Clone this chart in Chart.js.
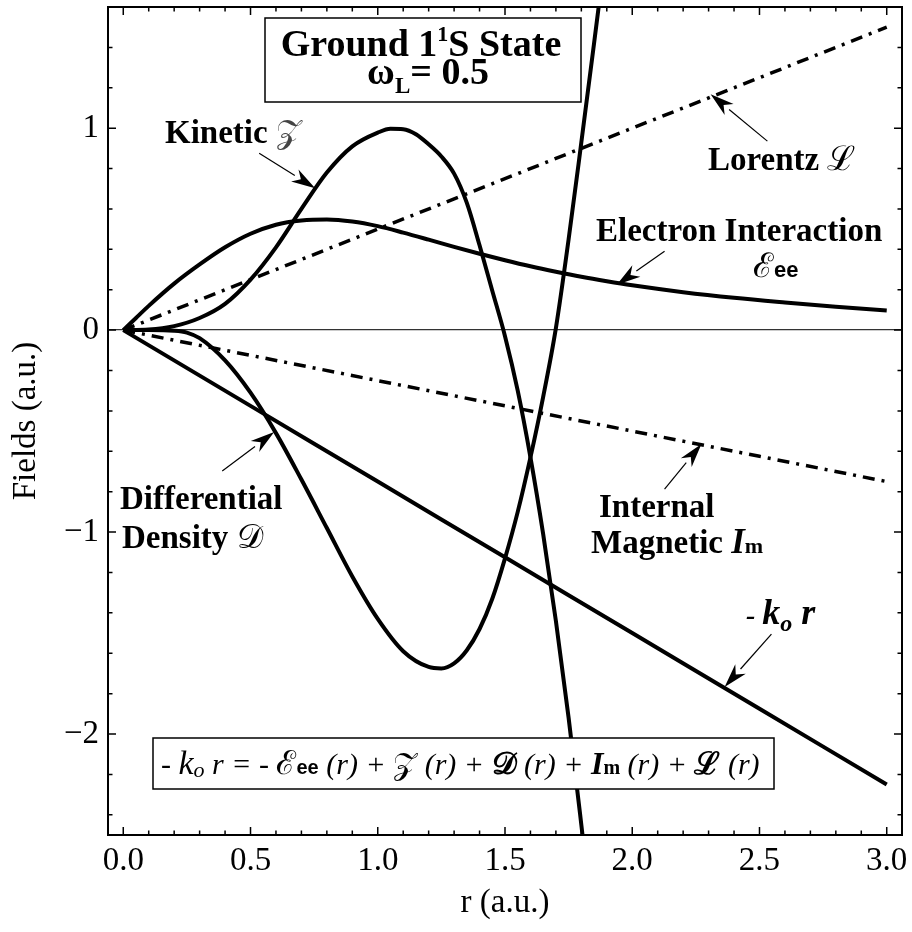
<!DOCTYPE html>
<html>
<head>
<meta charset="utf-8">
<script src="https://cdn.jsdelivr.net/npm/chart.js@4.4.1/dist/chart.umd.min.js"></script>
<style>
  html, body { margin: 0; padding: 0; background: #fff; }
</style>
</head>
<body>
<canvas id="c" width="912" height="932"></canvas>
<script>
// values, r in a.u.
const rEe = [0, 0.05, 0.1, 0.2, 0.3, 0.4, 0.5, 0.6, 0.7, 0.8, 0.9, 1.0, 1.1, 1.2, 1.3, 1.4, 1.5, 1.6, 1.7, 1.8, 1.9, 2.0, 2.2, 2.4, 2.6, 2.8, 3.0];
const electronInteraction = [0, 0.06, 0.12, 0.23, 0.325, 0.41, 0.477, 0.522, 0.543, 0.548, 0.538, 0.515, 0.483, 0.448, 0.412, 0.378, 0.346, 0.316, 0.289, 0.264, 0.242, 0.222, 0.188, 0.16, 0.137, 0.116, 0.097];

const rKin = [0, 0.1, 0.2, 0.3, 0.4, 0.5, 0.6, 0.7, 0.8, 0.9, 1.0, 1.05, 1.1, 1.15, 1.2, 1.25, 1.3, 1.35, 1.4, 1.45, 1.5, 1.55, 1.6, 1.65, 1.7, 1.75, 1.8, 1.83];
const kinetic = [0, 0.003, 0.02, 0.06, 0.13, 0.25, 0.41, 0.6, 0.78, 0.91, 0.978, 0.997, 0.995, 0.97, 0.92, 0.86, 0.775, 0.63, 0.42, 0.195, -0.03, -0.3, -0.63, -1.01, -1.44, -1.92, -2.45, -2.78];

const rDen = [0, 0.1, 0.2, 0.25, 0.3, 0.4, 0.5, 0.6, 0.7, 0.8, 0.9, 1.0, 1.1, 1.2, 1.25, 1.3, 1.35, 1.4, 1.45, 1.5, 1.55, 1.6, 1.65, 1.7, 1.75, 1.8, 1.85, 1.88];
const density = [0, 0, -0.003, -0.012, -0.04, -0.15, -0.31, -0.51, -0.74, -0.98, -1.22, -1.43, -1.59, -1.668, -1.675, -1.65, -1.585, -1.48, -1.33, -1.13, -0.9, -0.63, -0.33, 0.01, 0.45, 0.93, 1.42, 1.72];

const rLin = [0, 0.5, 1.0, 1.5, 2.0, 2.5, 3.0];
const lorentz = [0, 0.25, 0.5, 0.75, 1.0, 1.25, 1.5];
const internalMagnetic = [0, -0.125, -0.25, -0.375, -0.5, -0.625, -0.75];
const minusKoR = [0, -0.375, -0.75, -1.125, -1.5, -1.875, -2.25];

const xMajor = [0, 0.5, 1.0, 1.5, 2.0, 2.5, 3.0];
const xTickLabels = ['0.0', '0.5', '1.0', '1.5', '2.0', '2.5', '3.0'];
const yMajor = [-2, -1, 0, 1];
const yTickLabels = ['\u22122', '\u22121', '0', '1'];

const SERIF = '"Liberation Serif", "Times New Roman", serif';
const SANS = '"Liberation Sans", Arial, sans-serif';

function pts(xs, ys) {
  return xs.map((x, i) => ({ x: x, y: ys[i] }));
}

function labelFor(majors, labels) {
  return function (value) {
    const i = majors.findIndex(v => Math.abs(v - value) < 1e-6);
    return i >= 0 ? labels[i] : '';
  };
}

function drawRuns(ctx, runs, x, y, align) {
  let w = 0;
  runs.forEach(r => { ctx.font = r.f; w += ctx.measureText(r.t).width; });
  let cx = align === 'center' ? x - w / 2 : x;
  runs.forEach(r => {
    ctx.font = r.f;
    ctx.fillStyle = r.c || '#000';
    ctx.fillText(r.t, cx, y + (r.dy || 0));
    cx += ctx.measureText(r.t).width;
  });
}

function arrow(ctx, x0, y0, x1, y1) {
  const a = Math.atan2(y1 - y0, x1 - x0);
  const c = Math.cos(a), s = Math.sin(a);
  const L = 24, W = 7;
  ctx.lineWidth = 1.2;
  ctx.beginPath();
  ctx.moveTo(x0, y0);
  ctx.lineTo(x1 - L * c, y1 - L * s);
  ctx.stroke();
  ctx.beginPath();
  ctx.moveTo(x1, y1);
  ctx.lineTo(x1 - L * c - W * s, y1 - L * s + W * c);
  ctx.lineTo(x1 - 0.7 * L * c, y1 - 0.7 * L * s);
  ctx.lineTo(x1 - L * c + W * s, y1 - L * s - W * c);
  ctx.closePath();
  ctx.fill();
}

// arrows: [tail r, tail y, tip r, tip y] in data units
const arrows = [
  [0.534, 0.876, 0.754, 0.703],
  [2.531, 0.936, 2.308, 1.168],
  [2.127, 0.391, 1.939, 0.225],
  [0.389, -0.698, 0.593, -0.505],
  [2.127, -0.787, 2.272, -0.564],
  [2.547, -1.505, 2.363, -1.767]
];

const frameAndNotes = {
  id: 'frameAndNotes',
  afterDatasetsDraw(chart) {
    const { ctx, chartArea: a, scales: { x, y } } = chart;
    ctx.save();
    ctx.strokeStyle = '#000';
    ctx.fillStyle = '#000';

    // inward ticks on all four sides
    ctx.lineWidth = 1.5;
    ctx.beginPath();
    x.ticks.forEach(t => {
      const p = x.getPixelForValue(t.value);
      const len = t.label ? 8 : 4.5;
      ctx.moveTo(p, a.bottom); ctx.lineTo(p, a.bottom - len);
      ctx.moveTo(p, a.top); ctx.lineTo(p, a.top + len);
    });
    y.ticks.forEach(t => {
      const p = y.getPixelForValue(t.value);
      const len = t.label ? 8 : 4.5;
      ctx.moveTo(a.left, p); ctx.lineTo(a.left + len, p);
      ctx.moveTo(a.right, p); ctx.lineTo(a.right - len, p);
    });
    ctx.stroke();
    ctx.lineWidth = 2;
    ctx.strokeRect(a.left, a.top, a.right - a.left, a.bottom - a.top);

    // title box
    ctx.lineWidth = 1.5;
    ctx.fillStyle = '#fff';
    ctx.fillRect(265, 18, 316, 84);
    ctx.strokeRect(265, 18, 316, 84);
    ctx.textBaseline = 'alphabetic';
    const B38 = 'bold 38px ' + SERIF;
    drawRuns(ctx, [
      { t: 'Ground 1', f: B38 },
      { t: '1', f: 'bold 22px ' + SERIF, dy: -15 },
      { t: 'S State', f: B38 }
    ], 421, 56, 'center');
    drawRuns(ctx, [
      { t: '\u03c9', f: B38 },
      { t: 'L', f: 'bold 23px ' + SERIF, dy: 9 },
      { t: '= 0.5', f: B38 }
    ], 428, 84, 'center');

    // equation box
    ctx.fillStyle = '#fff';
    ctx.fillRect(153, 738, 621, 51);
    ctx.strokeRect(153, 738, 621, 51);
    const I30 = 'italic 30px ' + SERIF;
    drawRuns(ctx, [
      { t: '- ', f: I30 },
      { t: 'k', f: 'italic 34px ' + SERIF },
      { t: 'o', f: 'italic 22px ' + SERIF, dy: 3 },
      { t: ' r = - ', f: I30 },
      { t: '\u2130', f: '33px ' + SERIF },
      { t: 'ee', f: 'bold 20px ' + SANS },
      { t: ' (r) + ', f: I30 },
      { t: '\ud835\udcb5', f: '31px ' + SERIF },
      { t: ' (r) + ', f: I30 },
      { t: '\ud835\udc9f', f: 'bold 31px ' + SERIF },
      { t: ' (r) + ', f: I30 },
      { t: 'I', f: 'bold italic 32px ' + SERIF },
      { t: 'm', f: 'bold 20px ' + SERIF },
      { t: ' (r) + ', f: I30 },
      { t: '\u2112', f: 'bold 31px ' + SERIF },
      { t: ' (r)', f: I30 }
    ], 161, 774);

    // curve labels
    const B33 = 'bold 33px ' + SERIF;
    drawRuns(ctx, [{ t: 'Kinetic ', f: B33 }, { t: '\ud835\udcb5', f: '33px ' + SERIF, c: '#444' }], 165, 143);
    drawRuns(ctx, [{ t: 'Lorentz ', f: B33 }, { t: '\u2112', f: '34px ' + SERIF }], 708, 170);
    drawRuns(ctx, [{ t: 'Electron Interaction', f: B33 }], 596, 241);
    drawRuns(ctx, [{ t: '\u2130', f: '34px ' + SERIF }, { t: 'ee', f: 'bold 22px ' + SANS }], 753, 277);
    drawRuns(ctx, [{ t: 'Differential', f: B33 }], 120, 509);
    drawRuns(ctx, [{ t: 'Density ', f: B33 }, { t: '\ud835\udc9f', f: '33px ' + SERIF }], 122, 548);
    drawRuns(ctx, [{ t: 'Internal', f: B33 }], 599, 517);
    drawRuns(ctx, [
      { t: 'Magnetic ', f: B33 },
      { t: 'I', f: 'bold italic 35px ' + SERIF },
      { t: 'm', f: 'bold 22px ' + SERIF }
    ], 591, 553);
    drawRuns(ctx, [
      { t: '- ', f: 'bold italic 28px ' + SERIF },
      { t: 'k', f: 'bold italic 36px ' + SERIF },
      { t: 'o', f: 'bold italic 24px ' + SERIF, dy: 7 },
      { t: ' r', f: 'bold italic 36px ' + SERIF }
    ], 746, 624);

    ctx.strokeStyle = '#000';
    ctx.fillStyle = '#000';
    arrows.forEach(ar => {
      arrow(ctx, x.getPixelForValue(ar[0]), y.getPixelForValue(ar[1]),
        x.getPixelForValue(ar[2]), y.getPixelForValue(ar[3]));
    });
    ctx.restore();
  }
};

const solid = { borderColor: '#000', borderWidth: 4, pointRadius: 0, fill: false, cubicInterpolationMode: 'monotone' };
const dashDot = { borderColor: '#000', borderWidth: 3.5, pointRadius: 0, fill: false, borderDash: [12, 7, 3, 7] };

new Chart(document.getElementById('c'), {
  type: 'line',
  data: {
    datasets: [
      Object.assign({ label: 'Electron Interaction', data: pts(rEe, electronInteraction) }, solid),
      Object.assign({ label: 'Kinetic', data: pts(rKin, kinetic) }, solid),
      Object.assign({ label: 'Differential Density', data: pts(rDen, density) }, solid),
      Object.assign({ label: '-k r', data: pts(rLin, minusKoR) }, solid),
      Object.assign({ label: 'Lorentz', data: pts(rLin, lorentz) }, dashDot),
      Object.assign({ label: 'Internal Magnetic', data: pts(rLin, internalMagnetic) }, dashDot)
    ]
  },
  options: {
    responsive: false,
    animation: false,
    layout: { padding: { top: 7, right: 10, left: 0, bottom: 0 } },
    plugins: { legend: { display: false }, tooltip: { enabled: false } },
    scales: {
      x: {
        type: 'linear',
        min: -0.06,
        max: 3.06,
        grid: { display: false, drawTicks: false },
        border: { display: false },
        ticks: {
          stepSize: 0.1,
          autoSkip: false,
          maxRotation: 0,
          includeBounds: false,
          padding: 7,
          color: '#000',
          font: { family: SERIF, size: 33 },
          callback: labelFor(xMajor, xTickLabels)
        },
        title: {
          display: true,
          text: 'r (a.u.)',
          color: '#000',
          font: { family: SERIF, size: 33 },
          padding: { top: 0, bottom: 9 }
        },
        afterFit: s => { s.height = 97; s.paddingLeft = 0; s.paddingRight = 0; }
      },
      y: {
        type: 'linear',
        min: -2.5,
        max: 1.6,
        grid: {
          drawTicks: false,
          lineWidth: 1.3,
          color: c => (c.tick && c.tick.value === 0 ? '#333' : 'rgba(0,0,0,0)')
        },
        border: { display: false },
        ticks: {
          stepSize: 0.2,
          autoSkip: false,
          includeBounds: false,
          padding: 9,
          color: '#000',
          font: { family: SERIF, size: 33 },
          callback: labelFor(yMajor, yTickLabels)
        },
        title: {
          display: true,
          text: 'Fields (a.u.)',
          color: '#000',
          font: { family: SERIF, size: 33 },
          padding: { top: 7, bottom: 0 }
        },
        afterFit: s => { s.width = 108; s.paddingTop = 0; s.paddingBottom = 0; }
      }
    }
  },
  plugins: [frameAndNotes]
});
</script>
</body>
</html>
